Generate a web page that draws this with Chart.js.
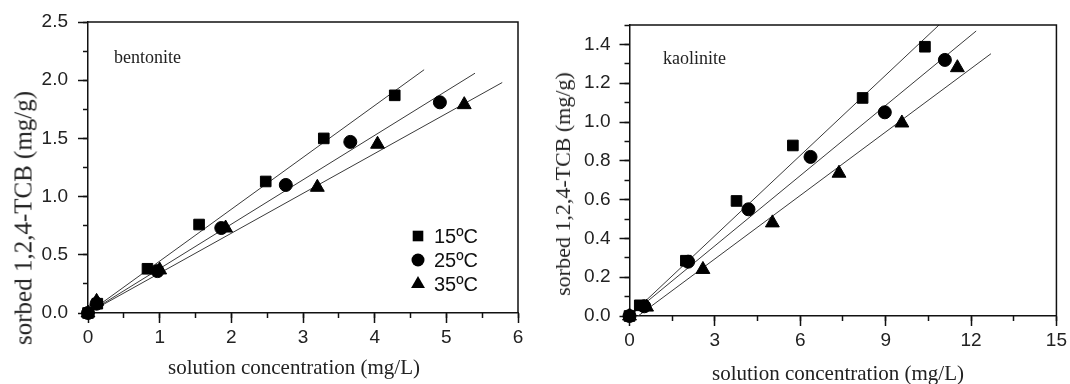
<!DOCTYPE html>
<html><head><meta charset="utf-8">
<script src="https://cdn.jsdelivr.net/npm/chart.js@4"></script>
<style>
body{margin:0;background:#fff;width:1070px;height:384px;position:relative;overflow:hidden;}
.wrap{position:absolute;top:0;}
.t{position:absolute;font-family:"Liberation Serif","Times New Roman",serif;color:#222;white-space:nowrap;line-height:1;}
</style></head><body>
<div class="wrap" style="left:0;width:540px;height:384px"><canvas id="c1" width="540" height="384"></canvas></div>
<div class="wrap" style="left:540px;width:530px;height:384px"><canvas id="c2" width="530" height="384"></canvas></div>
<div class="t" style="left:23px;top:218px;font-size:25px;transform:translate(-50%,-50%) rotate(-90deg)">sorbed 1,2,4-TCB (mg/g)</div>
<div class="t" style="left:294px;top:367px;font-size:21px;transform:translate(-50%,-50%)">solution concentration (mg/L)</div>
<div class="t" style="left:114px;top:57px;font-size:18px;transform:translate(0,-50%)">bentonite</div>
<div class="t" style="left:563px;top:184px;font-size:22px;transform:translate(-50%,-50%) rotate(-90deg)">sorbed 1,2,4-TCB (mg/g)</div>
<div class="t" style="left:838px;top:373px;font-size:21px;transform:translate(-50%,-50%)">solution concentration (mg/L)</div>
<div class="t" style="left:663px;top:58px;font-size:18px;transform:translate(0,-50%)">kaolinite</div>
<script>
// ---- data: bentonite ----
const seriesLabels = ['15ºC', '25ºC', '35ºC'];
const bentX15 = [0, 0.13, 0.83, 1.55, 2.48, 3.29, 4.28];
const bentY15 = [0, 0.08, 0.38, 0.76, 1.13, 1.50, 1.87];
const bentX25 = [0, 0.12, 0.97, 1.86, 2.76, 3.66, 4.91];
const bentY25 = [0, 0.08, 0.36, 0.73, 1.10, 1.47, 1.81];
const bentX35 = [0, 0.12, 1.00, 1.92, 3.20, 4.04, 5.25];
const bentY35 = [0, 0.10, 0.37, 0.73, 1.08, 1.45, 1.79];
const bentFitX15 = [0, 4.69], bentFitY15 = [0, 2.09];
const bentFitX25 = [0, 5.40], bentFitY25 = [0, 2.06];
const bentFitX35 = [0, 5.78], bentFitY35 = [0, 1.98];
const bentXTicks = [0, 1, 2, 3, 4, 5, 6];
const bentYTicks = [0, 0.5, 1.0, 1.5, 2.0, 2.5];

// ---- data: kaolinite ----
const kaoX15 = [0, 0.36, 1.98, 3.76, 5.74, 8.19, 10.38];
const kaoY15 = [0, 0.055, 0.285, 0.593, 0.879, 1.124, 1.388];
const kaoX25 = [0, 0.52, 2.06, 4.18, 6.36, 8.97, 11.08];
const kaoY25 = [0, 0.05, 0.28, 0.55, 0.82, 1.05, 1.32];
const kaoX35 = [0, 0.60, 2.58, 5.02, 7.36, 9.57, 11.52];
const kaoY35 = [0, 0.046, 0.24, 0.48, 0.736, 0.995, 1.28];
const kaoFitX15 = [0, 10.94], kaoFitY15 = [0, 1.509];
const kaoFitX25 = [0, 12.18], kaoFitY25 = [0, 1.469];
const kaoFitX35 = [0.3, 12.70], kaoFitY35 = [0, 1.352];
const kaoXTicks = [0, 3, 6, 9, 12, 15];
const kaoYTicks = [0, 0.2, 0.4, 0.6, 0.8, 1.0, 1.2, 1.4];

function pts(xs, ys) { return xs.map((x, i) => ({x: x, y: ys[i]})); }
const styles = [
  {pointStyle: 'rect', radius: 7.5},
  {pointStyle: 'circle', radius: 6.5},
  {pointStyle: 'triangle', radius: 8}
];
function pointSet(i, xs, ys) {
  return {label: seriesLabels[i], data: pts(xs, ys), showLine: false,
    pointStyle: styles[i].pointStyle, pointRadius: styles[i].radius,
    backgroundColor: '#000', borderColor: '#000', borderWidth: 1, clip: false, isMarker: true};
}
function fitSet(xs, ys) {
  return {label: 'fit', data: pts(xs, ys), showLine: true, pointRadius: 0,
    borderColor: '#3a3a3a', borderWidth: 1, fill: false, tension: 0};
}

function drawMarker(ctx, style, r, x, y) {
  ctx.beginPath();
  if (style === 'rect') {
    const s = Math.SQRT1_2 * r;
    ctx.rect(x - s, y - s, 2 * s, 2 * s);
  } else if (style === 'circle') {
    ctx.arc(x, y, r, 0, Math.PI * 2);
  } else {
    let a = 0;
    ctx.moveTo(x + Math.sin(a) * r, y - Math.cos(a) * r);
    a += 2 * Math.PI / 3; ctx.lineTo(x + Math.sin(a) * r, y - Math.cos(a) * r);
    a += 2 * Math.PI / 3; ctx.lineTo(x + Math.sin(a) * r, y - Math.cos(a) * r);
    ctx.closePath();
  }
  ctx.fill();
}

const markerLegend = {
  id: 'markerLegend',
  afterDatasetsDraw(chart, args, opts) {
    if (!opts || !opts.show) return;
    const ctx = chart.ctx;
    ctx.save();
    ctx.fillStyle = '#000';
    ctx.font = '20px "Liberation Sans", Arial, sans-serif';
    ctx.textBaseline = 'middle';
    let row = 0;
    chart.data.datasets.forEach(ds => {
      if (!ds.isMarker) return;
      const y = opts.y + row * opts.gap;
      drawMarker(ctx, ds.pointStyle, ds.pointRadius, opts.x, y);
      ctx.fillStyle = '#111';
      ctx.fillText(ds.label, opts.x + 16, y + 1);
      ctx.fillStyle = '#000';
      row++;
    });
    ctx.restore();
  }
};
const frame = {
  id: 'frame',
  afterDraw(chart) {
    const a = chart.chartArea, ctx = chart.ctx;
    ctx.save();
    ctx.strokeStyle = '#111';
    ctx.lineWidth = 1.5;
    ctx.beginPath();
    ctx.moveTo(a.left, a.top); ctx.lineTo(a.right, a.top); ctx.lineTo(a.right, a.bottom);
    ctx.stroke();
    ctx.restore();
  }
};

const tickFont = {family: '"Liberation Sans", Arial, sans-serif', size: 19};
function axes(o) {
  const majorGrid = {drawOnChartArea: false, drawTicks: true, tickLength: 10, color: '#111', tickWidth: 1.5};
  const minorGrid = {drawOnChartArea: false, drawTicks: true, tickLength: 5, color: '#111', tickWidth: 1.5};
  return {
    x: {type: 'linear', position: 'bottom', min: 0, max: o.xMax, weight: 1,
      afterBuildTicks: s => { s.ticks = o.xTicks.map(v => ({value: v})); },
      ticks: {font: tickFont, color: '#222', padding: 3, maxRotation: 0, autoSkip: false},
      grid: majorGrid, border: {display: true, color: '#111', width: 1.5},
      afterFit: s => { s.height = o.bottomH; }},
    xm: {type: 'linear', position: 'bottom', min: 0, max: o.xMax, weight: 0,
      ticks: {display: false, stepSize: o.xMinor},
      grid: minorGrid, border: {display: false},
      afterFit: s => { s.height = 0; }},
    y: {type: 'linear', position: 'left', min: 0, max: o.yMax, weight: 1,
      afterBuildTicks: s => { s.ticks = o.yTicks.map(v => ({value: v})); },
      ticks: {font: tickFont, color: '#222', padding: o.yPad, autoSkip: false,
        callback: v => Number(v).toFixed(1)},
      grid: majorGrid, border: {display: true, color: '#111', width: 1.5},
      afterFit: s => { s.width = o.leftW; }},
    ym: {type: 'linear', position: 'left', min: 0, max: o.yMax, weight: 0,
      ticks: {display: false, stepSize: o.yMinor},
      grid: minorGrid, border: {display: false},
      afterFit: s => { s.width = 0; }}
  };
}

function makeChart(id, datasets, sc, pad, legendOpts) {
  return new Chart(document.getElementById(id), {
    type: 'scatter',
    data: {datasets: datasets},
    options: {
      responsive: false, animation: false, devicePixelRatio: 1,
      layout: {padding: pad},
      plugins: {legend: {display: false}, tooltip: {enabled: false},
        markerLegend: legendOpts},
      scales: axes(sc)
    },
    plugins: [markerLegend, frame]
  });
}

makeChart('c1', [
  pointSet(0, bentX15, bentY15), pointSet(1, bentX25, bentY25), pointSet(2, bentX35, bentY35),
  fitSet(bentFitX15, bentFitY15), fitSet(bentFitX25, bentFitY25), fitSet(bentFitX35, bentFitY35)
], {xMax: 6, xTicks: bentXTicks, xMinor: 0.5, yMax: 2.5, yTicks: bentYTicks, yMinor: 0.25,
    leftW: 88, bottomH: 71, yPad: 10},
  {top: 22, right: 22, left: 0, bottom: 0},
  {show: true, x: 418, y: 236, gap: 24});

makeChart('c2', [
  pointSet(0, kaoX15, kaoY15), pointSet(1, kaoX25, kaoY25), pointSet(2, kaoX35, kaoY35),
  fitSet(kaoFitX15, kaoFitY15), fitSet(kaoFitX25, kaoFitY25), fitSet(kaoFitX35, kaoFitY35)
], {xMax: 15, xTicks: kaoXTicks, xMinor: 1.5, yMax: 1.5, yTicks: kaoYTicks, yMinor: 0.1,
    leftW: 89.5, bottomH: 68, yPad: 9},
  {top: 25, right: 10, left: 0, bottom: 0},
  {show: false});
</script>
</body></html>
